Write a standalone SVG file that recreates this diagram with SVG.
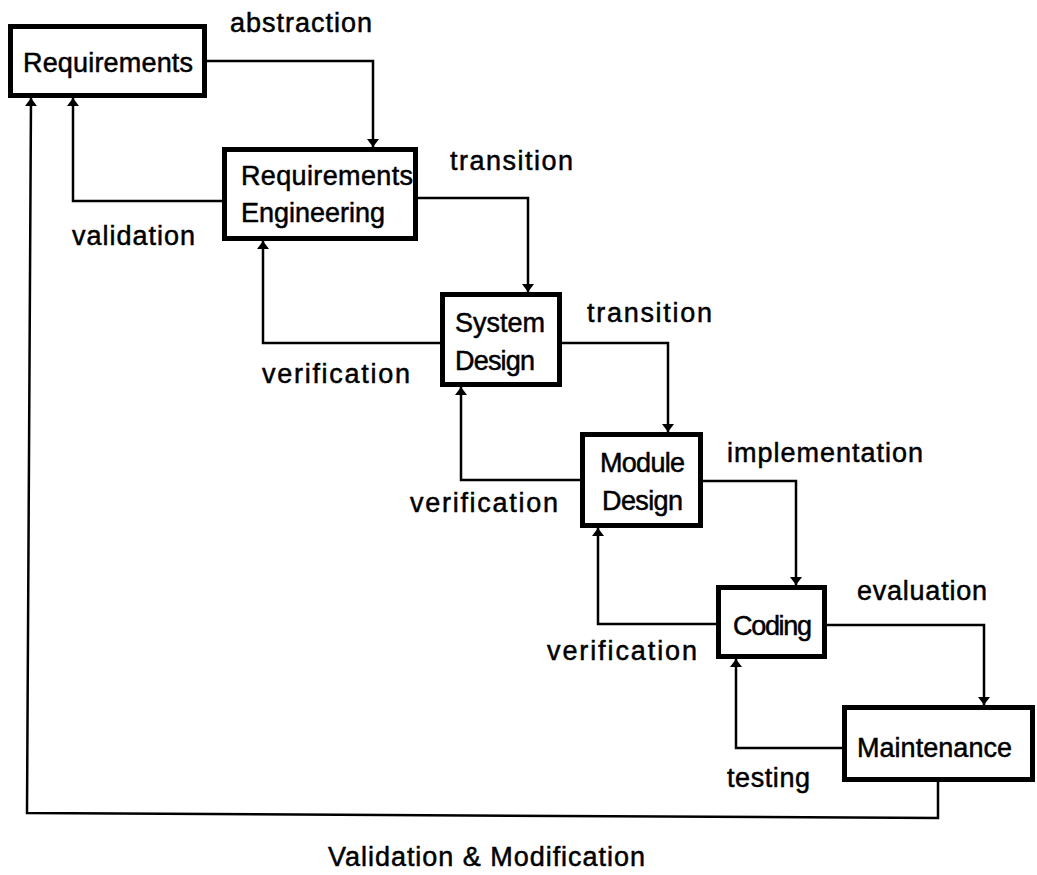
<svg xmlns="http://www.w3.org/2000/svg" width="1037" height="875" viewBox="0 0 1037 875">
  <style>
    .box { fill: #fff; stroke: #000; stroke-width: 5; }
    .wire { fill: none; stroke: #000; stroke-width: 2.5; stroke-linejoin: miter; }
    .arr { marker-end: url(#head); }
    text { font-family: "Liberation Sans", Arial, sans-serif; font-size: 27px; fill: #000; stroke: #000; stroke-width: 0.5; }
  </style>
  <defs>
    <marker id="head" viewBox="0 0 8 12" refX="8" refY="6" markerWidth="8" markerHeight="12" markerUnits="userSpaceOnUse" orient="auto">
      <path d="M0,0 L8,6 L0,12 z" fill="#000"/>
    </marker>
  </defs>

  <!-- connectors -->
  <g id="connectors">
    <path class="wire arr" d="M207,61 H373 V147"/>
    <path class="wire arr" d="M222,201 H73 V98"/>
    <path class="wire arr" d="M418,198 H528 V292"/>
    <path class="wire arr" d="M440,343 H263 V241"/>
    <path class="wire arr" d="M562,343 H668 V432"/>
    <path class="wire arr" d="M580,480 H461 V387"/>
    <path class="wire arr" d="M703,481 H796 V585"/>
    <path class="wire arr" d="M716,624 H598 V528"/>
    <path class="wire arr" d="M827,625 H984 V705"/>
    <path class="wire arr" d="M842,748 H736 V659"/>
    <path class="wire arr" d="M938,782 V818 L27,813 L31,98"/>

    <text x="230" y="32" textLength="142">abstraction</text>
    <text x="72" y="245" textLength="123">validation</text>
    <text x="450" y="170" textLength="123">transition</text>
    <text x="262" y="383" textLength="148">verification</text>
    <text x="587" y="322" textLength="125">transition</text>
    <text x="410" y="512" textLength="148">verification</text>
    <text x="727" y="462" textLength="196">implementation</text>
    <text x="547" y="660" textLength="150">verification</text>
    <text x="857" y="600" textLength="130">evaluation</text>
    <text x="727" y="787" textLength="83">testing</text>
    <text x="328" y="866" textLength="317">Validation &amp; Modification</text>
  </g>

  <!-- nodes -->
  <g id="requirements">
    <rect class="box" x="10.5" y="26.5" width="194" height="69"/>
    <text x="23" y="72" textLength="170">Requirements</text>
  </g>
  <g id="requirements-engineering">
    <rect class="box" x="224.5" y="149.5" width="191" height="89"/>
    <text x="241" y="185" textLength="172">Requirements</text>
    <text x="241" y="222" textLength="144">Engineering</text>
  </g>
  <g id="system-design">
    <rect class="box" x="442.5" y="294.5" width="117" height="90"/>
    <text x="455" y="332" textLength="90">System</text>
    <text x="455" y="370" textLength="80">Design</text>
  </g>
  <g id="module-design">
    <rect class="box" x="582.5" y="434.5" width="118" height="91"/>
    <text x="600" y="472" textLength="85">Module</text>
    <text x="602" y="510" textLength="81">Design</text>
  </g>
  <g id="coding">
    <rect class="box" x="718.5" y="587.5" width="106" height="69"/>
    <text x="733" y="635" textLength="79">Coding</text>
  </g>
  <g id="maintenance">
    <rect class="box" x="844.5" y="707.5" width="188" height="72"/>
    <text x="857" y="757" textLength="155">Maintenance</text>
  </g>
</svg>
